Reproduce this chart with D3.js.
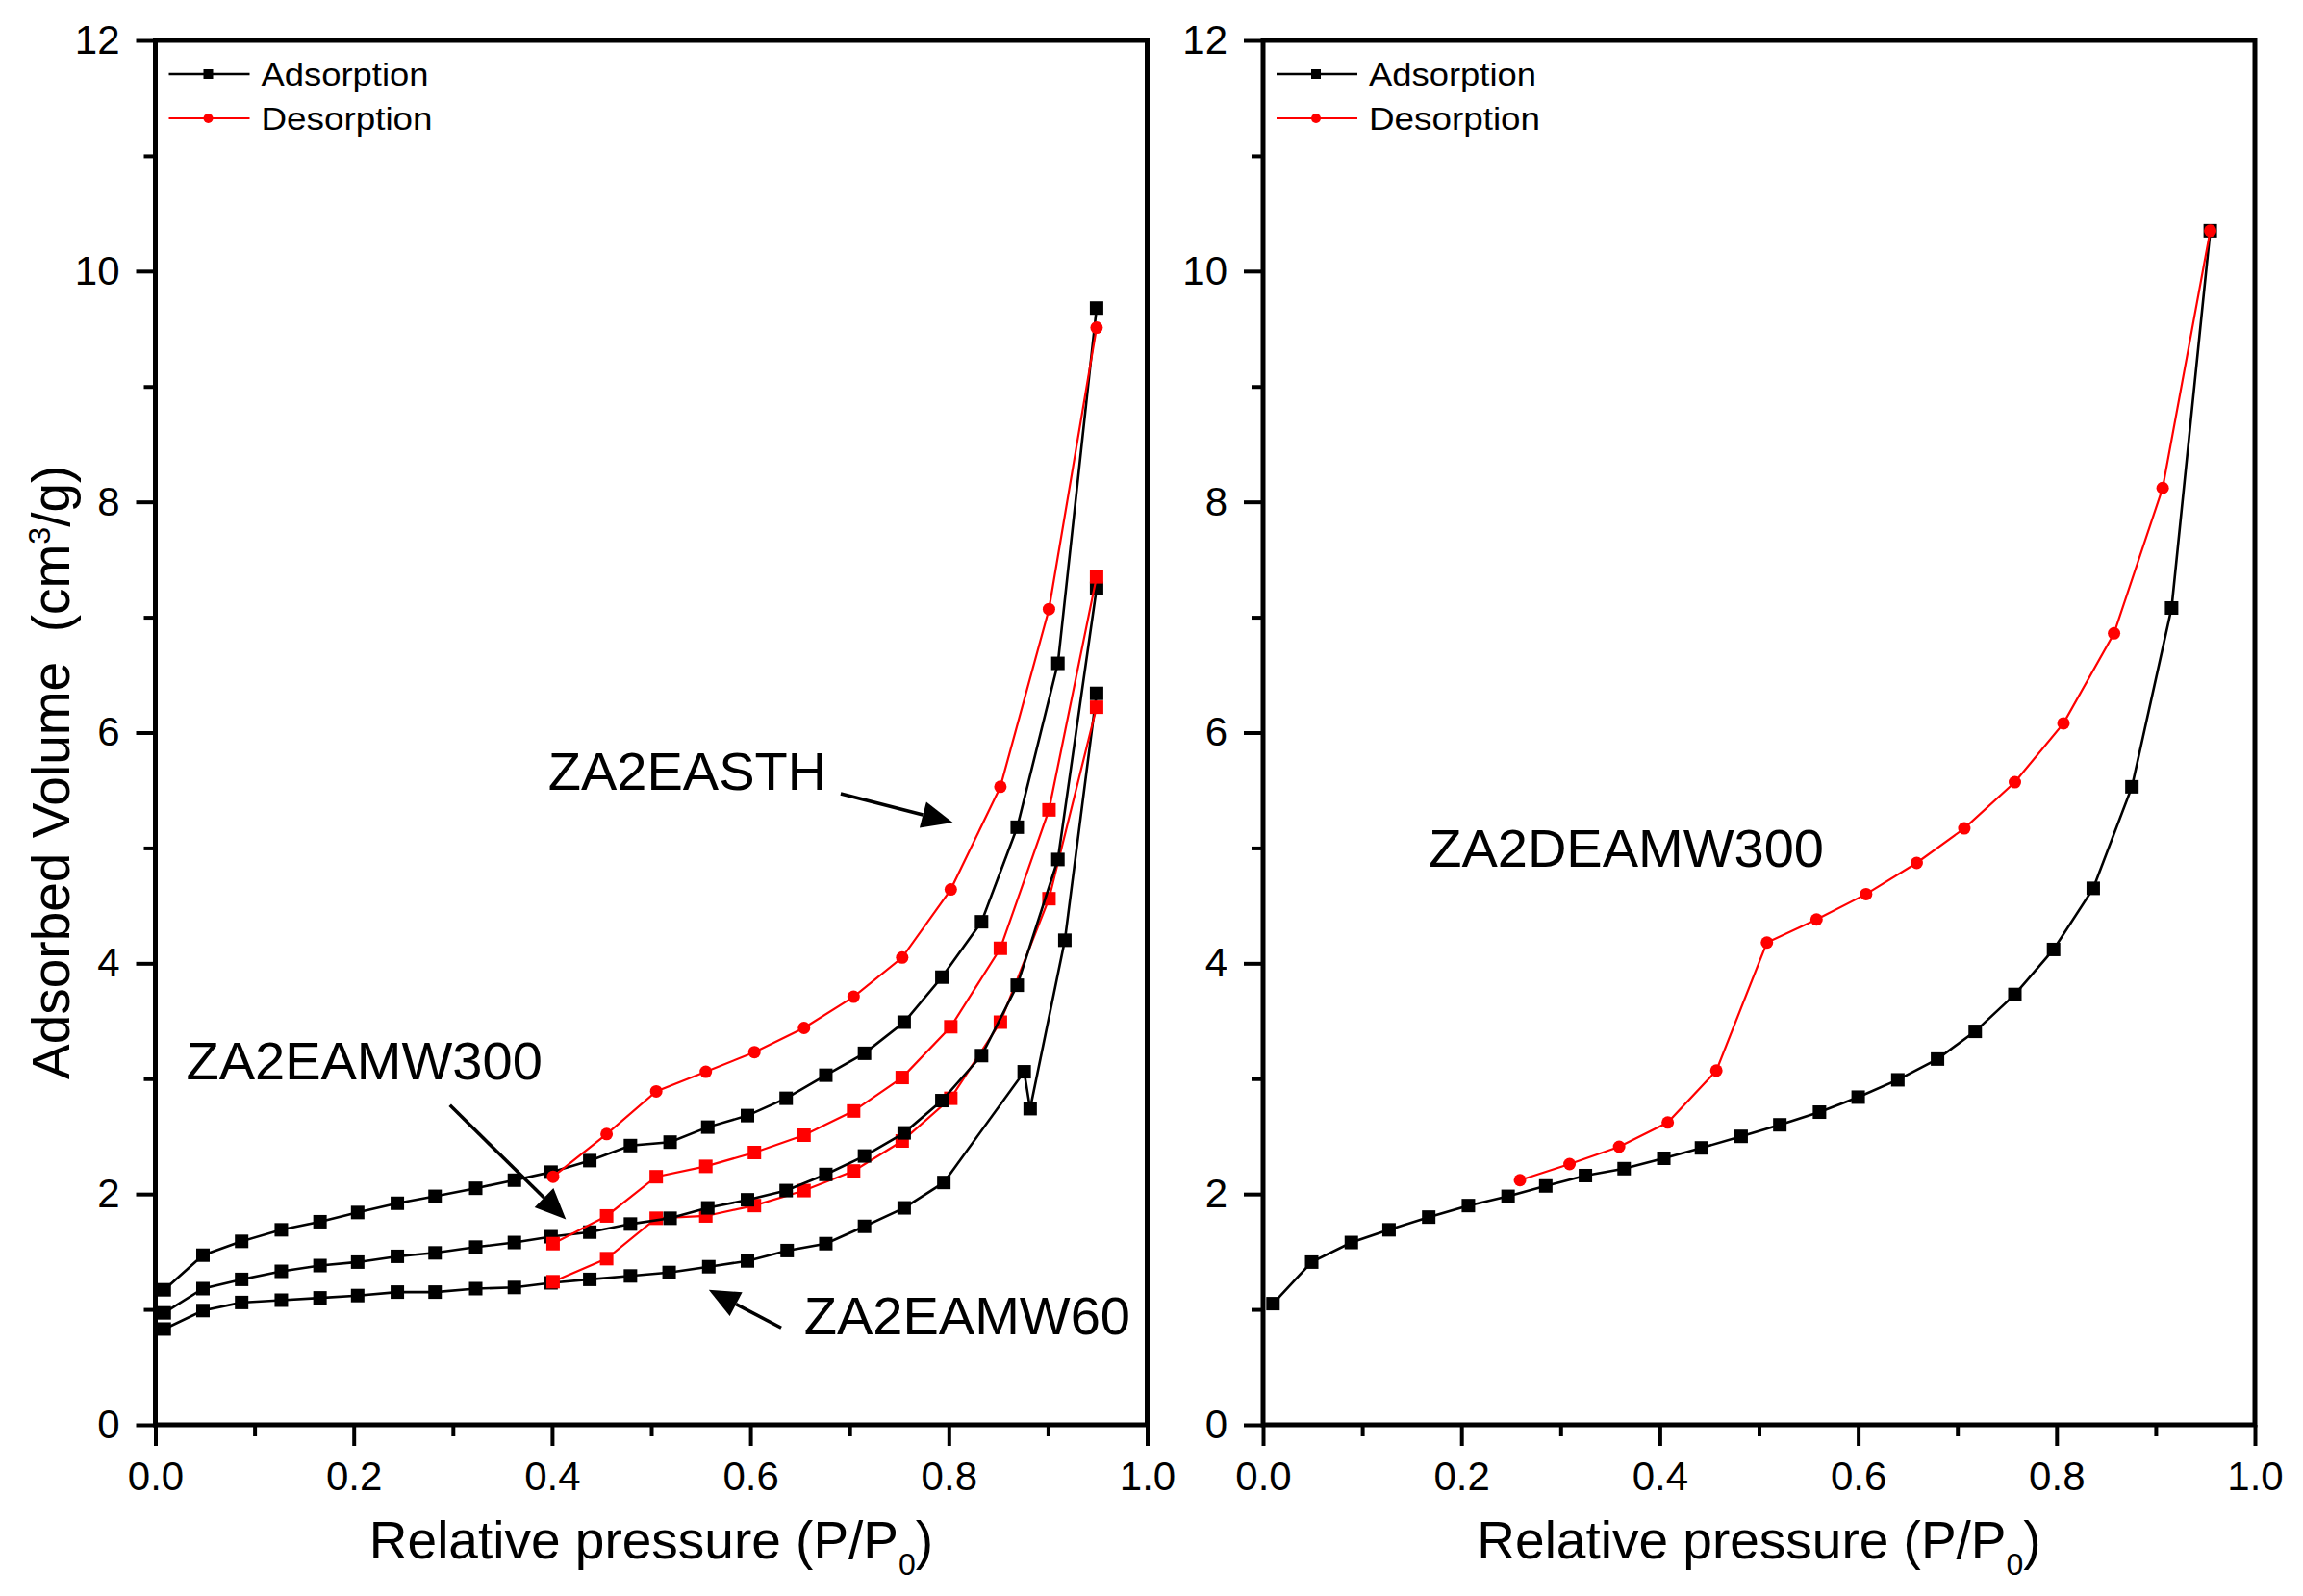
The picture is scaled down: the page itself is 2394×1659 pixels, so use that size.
<!DOCTYPE html>
<html>
<head>
<meta charset="utf-8">
<script src="https://cdn.jsdelivr.net/npm/d3@7"></script>
<style>
  body { margin: 0; background: #fff; }
  text { font-family: "Liberation Sans", Arial, sans-serif; fill: #000; }
</style>
</head>
<body>
<svg width="2394" height="1659"></svg>
<script>
// --- data ---
const tickValuesY = [0, 2, 4, 6, 8, 10, 12];
const tickValuesX = [0, 0.2, 0.4, 0.6, 0.8, 1.0];

// left panel
const pAdsA = [0.009,0.048,0.087,0.127,0.166,0.204,0.244,0.282,0.323,0.362,0.399,0.438,0.479,0.519,0.557,0.597,0.636,0.676,0.715,0.755,0.793,0.833,0.869,0.910,0.949];
const vAdsEASTH = [1.17,1.47,1.59,1.69,1.76,1.84,1.92,1.98,2.05,2.12,2.19,2.29,2.42,2.45,2.58,2.68,2.83,3.03,3.22,3.49,3.88,4.36,5.18,6.60,9.68];
const vAdsMW300 = [0.97,1.18,1.26,1.33,1.38,1.41,1.46,1.49,1.54,1.58,1.63,1.67,1.74,1.79,1.88,1.95,2.03,2.17,2.33,2.53,2.81,3.20,3.81,4.90,7.25];
const pAdsMW60 = [0.009,0.048,0.087,0.127,0.166,0.204,0.244,0.282,0.323,0.362,0.399,0.438,0.479,0.518,0.558,0.597,0.637,0.676,0.715,0.755,0.795,0.876,0.882,0.917,0.949];
const vAdsMW60 = [0.83,0.99,1.06,1.08,1.10,1.12,1.15,1.15,1.18,1.19,1.23,1.26,1.29,1.32,1.37,1.42,1.51,1.57,1.72,1.88,2.10,3.06,2.74,4.20,6.34];
const pDesA = [0.949,0.901,0.852,0.802,0.753,0.704,0.654,0.604,0.555,0.505,0.455,0.401];
const vDesEASTH = [9.51,7.07,5.53,4.64,4.05,3.71,3.44,3.23,3.06,2.89,2.52,2.15];
const vDesMW300 = [7.35,5.33,4.13,3.45,3.01,2.72,2.51,2.36,2.24,2.15,1.81,1.57];
const vDesMW60 = [6.22,4.56,3.49,2.83,2.46,2.20,2.03,1.90,1.81,1.79,1.44,1.24];

// right panel
const pAdsB = [0.010,0.049,0.089,0.127,0.167,0.207,0.247,0.285,0.325,0.364,0.404,0.442,0.482,0.521,0.561,0.600,0.640,0.680,0.718,0.758,0.797,0.837,0.876,0.916,0.955];
const vAdsDEAMW300 = [1.05,1.41,1.58,1.69,1.80,1.90,1.98,2.07,2.16,2.22,2.31,2.40,2.50,2.60,2.71,2.84,2.99,3.17,3.41,3.73,4.12,4.65,5.53,7.08,10.35];
const pDesB = [0.955,0.907,0.858,0.807,0.758,0.707,0.659,0.608,0.558,0.508,0.457,0.408,0.359,0.309,0.259];
const vDesDEAMW300 = [10.35,8.12,6.86,6.08,5.57,5.17,4.87,4.60,4.38,4.18,3.07,2.62,2.41,2.26,2.12];

const legendLabels = ["Adsorption", "Desorption"];

const svg = d3.select("svg");
const plotTop = 42, plotBottom = 1481, pw = 1031;

const zip = (px, vy) => px.map((p, i) => [p, vy[i]]);

function panel(left, opts) {
    const h = plotBottom - plotTop;
    const x = d3.scaleLinear().domain([0, 1]).range([0, pw]);
    const y = d3.scaleLinear().domain([0, 12]).range([h, 0]);
    const g = svg.append("g").attr("transform", `translate(${left},${plotTop})`);

    // minor ticks
    g.append("g").attr("transform", `translate(0,${h})`)
        .call(d3.axisBottom(x).tickValues([0.1, 0.3, 0.5, 0.7, 0.9]).tickSize(12).tickFormat(""))
        .call(a => a.select(".domain").remove())
        .selectAll("line").attr("stroke-width", 4);
    g.append("g")
        .call(d3.axisLeft(y).tickValues([1, 3, 5, 7, 9, 11]).tickSize(12).tickFormat(""))
        .call(a => a.select(".domain").remove())
        .selectAll("line").attr("stroke-width", 4);

    // major ticks + labels
    const ax = g.append("g").attr("transform", `translate(0,${h})`)
        .call(d3.axisBottom(x).tickValues(tickValuesX).tickSize(22).tickPadding(16).tickFormat(d3.format(".1f")));
    ax.select(".domain").remove();
    ax.selectAll("line").attr("stroke-width", 4);
    ax.selectAll("text").attr("font-size", 42).attr("font-family", "Liberation Sans, Arial, sans-serif");

    const ay = g.append("g")
        .call(d3.axisLeft(y).tickValues(tickValuesY).tickSize(20).tickPadding(17));
    ay.select(".domain").remove();
    ay.selectAll("line").attr("stroke-width", 4);
    ay.selectAll("text").attr("font-size", 42).attr("font-family", "Liberation Sans, Arial, sans-serif");

    // frame
    g.append("rect").attr("width", pw).attr("height", h)
        .attr("fill", "none").attr("stroke", "#000").attr("stroke-width", 5);

    const line = d3.line().x(d => x(d[0])).y(d => y(d[1]));

    opts.series.forEach(s => {
        g.append("path").datum(s.data)
            .attr("d", line).attr("fill", "none")
            .attr("stroke", s.color).attr("stroke-width", s.color === "#000" ? 2.6 : 2.2);
        if (s.shape === "square") {
            g.selectAll(null).data(s.data).enter().append("rect")
                .attr("x", d => x(d[0]) - 7).attr("y", d => y(d[1]) - 7)
                .attr("width", 14).attr("height", 14).attr("fill", s.color);
        } else {
            g.selectAll(null).data(s.data).enter().append("circle")
                .attr("cx", d => x(d[0])).attr("cy", d => y(d[1]))
                .attr("r", 6.5).attr("fill", s.color);
        }
    });

    // legend
    const lg = g.append("g");
    legendLabels.forEach((lab, i) => {
        const ly = 35 + i * 46;
        const col = i === 0 ? "#000" : "#ff0000";
        lg.append("line").attr("x1", 14).attr("x2", 98).attr("y1", ly).attr("y2", ly)
            .attr("stroke", col).attr("stroke-width", i === 0 ? 2.6 : 2);
        if (i === 0) {
            lg.append("rect").attr("x", 50).attr("y", ly - 5).attr("width", 10).attr("height", 10).attr("fill", col);
        } else {
            lg.append("circle").attr("cx", 55).attr("cy", ly).attr("r", 5).attr("fill", col);
        }
        lg.append("text").attr("x", 110).attr("y", ly + 12).attr("font-size", 34)
            .attr("textLength", i === 0 ? 174 : 178).attr("lengthAdjust", "spacingAndGlyphs")
            .text(lab);
    });

    // x label
    const xl = g.append("text").attr("x", pw / 2).attr("y", 1620 - plotTop)
        .attr("text-anchor", "middle").attr("font-size", 55);
    xl.append("tspan").text("Relative pressure (P/P");
    xl.append("tspan").attr("dy", 17).attr("font-size", 32).text("0");
    xl.append("tspan").attr("dy", -17).text(")");

    // annotations
    opts.notes.forEach(n => {
        g.append("text").attr("x", x(n.tx)).attr("y", y(n.ty)).attr("font-size", 56).text(n.text);
        if (n.arrow) {
            const [x0, y0] = [x(n.arrow[0]), y(n.arrow[1])];
            const [x1, y1] = [x(n.arrow[2]), y(n.arrow[3])];
            const ang = Math.atan2(y1 - y0, x1 - x0);
            const len = 32, wid = 14;
            const bx = x1 - len * Math.cos(ang), by = y1 - len * Math.sin(ang);
            g.append("line").attr("x1", x0).attr("y1", y0).attr("x2", bx).attr("y2", by)
                .attr("stroke", "#000").attr("stroke-width", 3.5);
            g.append("path")
                .attr("d", `M${x1},${y1}L${bx + wid * Math.sin(ang)},${by - wid * Math.cos(ang)}L${bx - wid * Math.sin(ang)},${by + wid * Math.cos(ang)}Z`)
                .attr("fill", "#000");
        }
    });
    return g;
}

panel(161.5, {
    series: [
        {data: zip(pAdsMW60, vAdsMW60), color: "#000", shape: "square"},
        {data: zip(pDesA, vDesMW60), color: "#ff0000", shape: "square"},
        {data: zip(pAdsA, vAdsMW300), color: "#000", shape: "square"},
        {data: zip(pDesA, vDesMW300), color: "#ff0000", shape: "square"},
        {data: zip(pAdsA, vAdsEASTH), color: "#000", shape: "square"},
        {data: zip(pDesA, vDesEASTH), color: "#ff0000", shape: "circle"}
    ],
    notes: [
        {text: "ZA2EASTH", tx: 0.396, ty: 5.50, arrow: [0.691, 5.47, 0.804, 5.22]},
        {text: "ZA2EAMW300", tx: 0.031, ty: 2.99, arrow: [0.297, 2.77, 0.414, 1.78]},
        {text: "ZA2EAMW60", tx: 0.654, ty: 0.78, arrow: [0.631, 0.84, 0.558, 1.17]}
    ]
});

panel(1313, {
    series: [
        {data: zip(pAdsB, vAdsDEAMW300), color: "#000", shape: "square"},
        {data: zip(pDesB, vDesDEAMW300), color: "#ff0000", shape: "circle"}
    ],
    notes: [
        {text: "ZA2DEAMW300", tx: 0.167, ty: 4.84}
    ]
});

// y axis title
const yl = svg.append("text").attr("transform", "translate(72,1122) rotate(-90)")
    .attr("font-size", 55).style("white-space", "pre");
yl.append("tspan").text("Adsorbed Volume  (cm");
yl.append("tspan").attr("dy", -20).attr("font-size", 32).text("3");
yl.append("tspan").attr("dy", 20).text("/g)");
</script>
</body>
</html>
